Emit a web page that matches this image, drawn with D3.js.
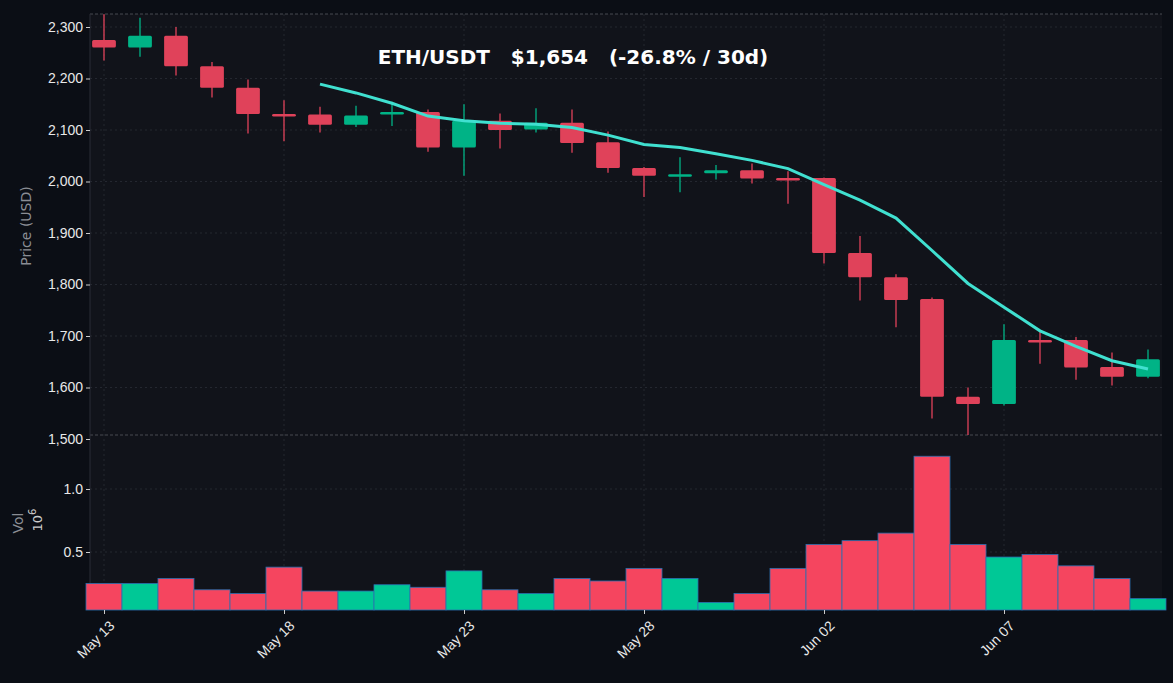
<!DOCTYPE html>
<html><head><meta charset="utf-8">
<script src="https://cdn.jsdelivr.net/npm/d3@7"></script>
<style>
body{margin:0;background:#0b0e15;font-family:"DejaVu Sans",sans-serif;}
</style></head><body>
<script>
(function(){

//candle data, May 13 .. Jun 11
var opens  = [2275,2260,2283,2224,2182,2131,2130,2110,2130,2135,2066,2118,2101,2114,2076,2026,2012,2016,2022,2007,2007,1861,1814,1772,1582,1568,1692,1692,1640,1621];
var closes = [2260,2283,2224,2182,2131,2130,2110,2128,2135,2066,2118,2100,2114,2075,2026,2011,2014,2022,2006,2006,1861,1814,1770,1582,1568,1692,1691,1639,1621,1655];
var highs  = [2325,2318,2300,2232,2198,2158,2145,2147,2155,2140,2150,2132,2142,2140,2097,2028,2047,2032,2035,2020,2008,1894,1820,1775,1600,1723,1710,1698,1668,1674];
var lows   = [2235,2242,2206,2163,2093,2078,2095,2106,2108,2058,2011,2064,2095,2056,2017,1970,1979,2004,1996,1957,1841,1769,1717,1540,1508,1565,1646,1615,1604,1618];
var volumes = [0.25,0.25,0.29,0.20,0.17,0.38,0.19,0.19,0.24,0.22,0.35,0.20,0.17,0.29,0.27,0.37,0.29,0.10,0.17,0.37,0.56,0.59,0.65,1.26,0.56,0.46,0.48,0.39,0.29,0.13];
//moving average, starts at May 19
var maStart = 6;
var maValues = [2189,2172,2152,2127,2118,2113,2111,2105,2090,2072,2066,2054,2041,2025,1994,1964,1929,1866,1802,1756,1710,1680,1652,1636];
var tickDays = [0,5,10,15,20,25];
var tickLabels = ["May 13","May 18","May 23","May 28","Jun 02","Jun 07"];
var priceTicks = [1500,1600,1700,1800,1900,2000,2100,2200,2300];
var volTicks = [0.5,1.0];

var W = 1173, H = 683,
    left = 90, right = 1162,
    pTop = 14, pBot = 435, vBot = 610;

var svg = d3.select("body").append("svg").attr("width", W).attr("height", H);

var x = d3.scaleLinear().domain([0,29]).range([104,1148]);
var y = d3.scaleLinear().domain([1500,2300]).range([439,27]);
var yv = d3.scaleLinear().domain([0,1.0]).range([615,489]);
var dayW = x(1) - x(0);

var red = "#e0425a", green = "#00b386", vRed = "#f5455f", vGreen = "#00c896";

//panel backgrounds
svg.append("rect").attr("x",left).attr("y",pTop).attr("width",right-left).attr("height",vBot-pTop).attr("fill","#11131a");

//grid
var grid = svg.append("g").attr("stroke","#2a2d36").attr("stroke-dasharray","2,3").attr("stroke-width",0.8);
tickDays.forEach(function(d){
    grid.append("line").attr("x1",x(d)).attr("x2",x(d)).attr("y1",pTop).attr("y2",vBot);
});
priceTicks.forEach(function(p){
    if (y(p) < pBot) grid.append("line").attr("x1",left).attr("x2",right).attr("y1",y(p)).attr("y2",y(p));
});
volTicks.forEach(function(v){
    grid.append("line").attr("x1",left).attr("x2",right).attr("y1",yv(v)).attr("y2",yv(v));
});

//dashed frame lines
[pTop,pBot].forEach(function(yy){
    svg.append("line").attr("x1",left).attr("x2",right).attr("y1",yy).attr("y2",yy)
        .attr("stroke","#55585f").attr("stroke-dasharray","3,2").attr("stroke-width",0.8);
});
svg.append("line").attr("x1",left).attr("x2",left).attr("y1",pTop).attr("y2",vBot).attr("stroke","#2a2d36");

//candles
var idx = d3.range(opens.length);
var candles = svg.append("g").selectAll("g").data(idx).enter().append("g");
candles.append("line")
    .attr("x1",function(i){return x(i);}).attr("x2",function(i){return x(i);})
    .attr("y1",function(i){return Math.max(y(highs[i]),pTop);}).attr("y2",function(i){return y(lows[i]);})
    .attr("stroke",function(i){return closes[i]>=opens[i]?green:red;}).attr("stroke-width",1.3);
candles.append("rect")
    .attr("x",function(i){return x(i)-dayW*0.33;})
    .attr("width",dayW*0.66)
    .attr("y",function(i){return y(Math.max(opens[i],closes[i]));})
    .attr("height",function(i){return Math.max(Math.abs(y(opens[i])-y(closes[i])),2.5);})
    .attr("rx",1.5)
    .attr("fill",function(i){return closes[i]>=opens[i]?green:red;});

//moving average
var line = d3.line().x(function(d,i){return x(i+maStart);}).y(function(d){return y(d);});
svg.append("path").datum(maValues).attr("d",line).attr("fill","none")
    .attr("stroke","#40e0d0").attr("stroke-width",3);

//volume bars
svg.append("g").selectAll("rect").data(idx).enter().append("rect")
    .attr("x",function(i){return x(i)-dayW/2;})
    .attr("width",dayW)
    .attr("y",function(i){return yv(volumes[i]);})
    .attr("height",function(i){return vBot-yv(volumes[i]);})
    .attr("fill",function(i){return closes[i]>=opens[i]?vGreen:vRed;})
    .attr("stroke","#2a6fb0").attr("stroke-width",0.8);

//axes
var yAxis = svg.append("g").attr("transform","translate("+left+",0)")
    .call(d3.axisLeft(y).tickValues(priceTicks).tickSize(4));
var vAxis = svg.append("g").attr("transform","translate("+left+",0)")
    .call(d3.axisLeft(yv).tickValues(volTicks).tickFormat(d3.format(".1f")).tickSize(4));
var xAxis = svg.append("g").attr("transform","translate(0,"+vBot+")")
    .call(d3.axisBottom(x).tickValues(tickDays).tickFormat(function(d,i){return tickLabels[i];}).tickSize(4));
xAxis.selectAll("text").attr("transform","rotate(-45)").attr("text-anchor","end").attr("dx","-0.3em").attr("dy","0.9em");
[yAxis,vAxis,xAxis].forEach(function(a){
    a.select(".domain").remove();
    a.selectAll("line").attr("stroke","#cccccc");
    a.selectAll("text").attr("fill","#e8e8e8").attr("font-size",14);
});

//labels
svg.append("text").attr("transform","translate(31,226) rotate(-90)").attr("text-anchor","middle")
    .attr("fill","#8a8d94").attr("font-size",14).text("Price (USD)");
svg.append("text").attr("transform","translate(23,523) rotate(-90)").attr("text-anchor","middle")
    .attr("fill","#8a8d94").attr("font-size",14).text("Vol");
svg.append("text").attr("transform","translate(42,520) rotate(-90)").attr("text-anchor","middle")
    .attr("fill","#cccccc").attr("font-size",13).html("10<tspan dy='-6' font-size='10'>6</tspan>");

svg.append("text").attr("x",573).attr("y",64).attr("text-anchor","middle")
    .attr("fill","#ffffff").attr("font-size",20).attr("font-weight","bold")
    .attr("xml:space","preserve").text("ETH/USDT   $1,654   (-26.8% / 30d)");

})();
</script>
</body></html>
